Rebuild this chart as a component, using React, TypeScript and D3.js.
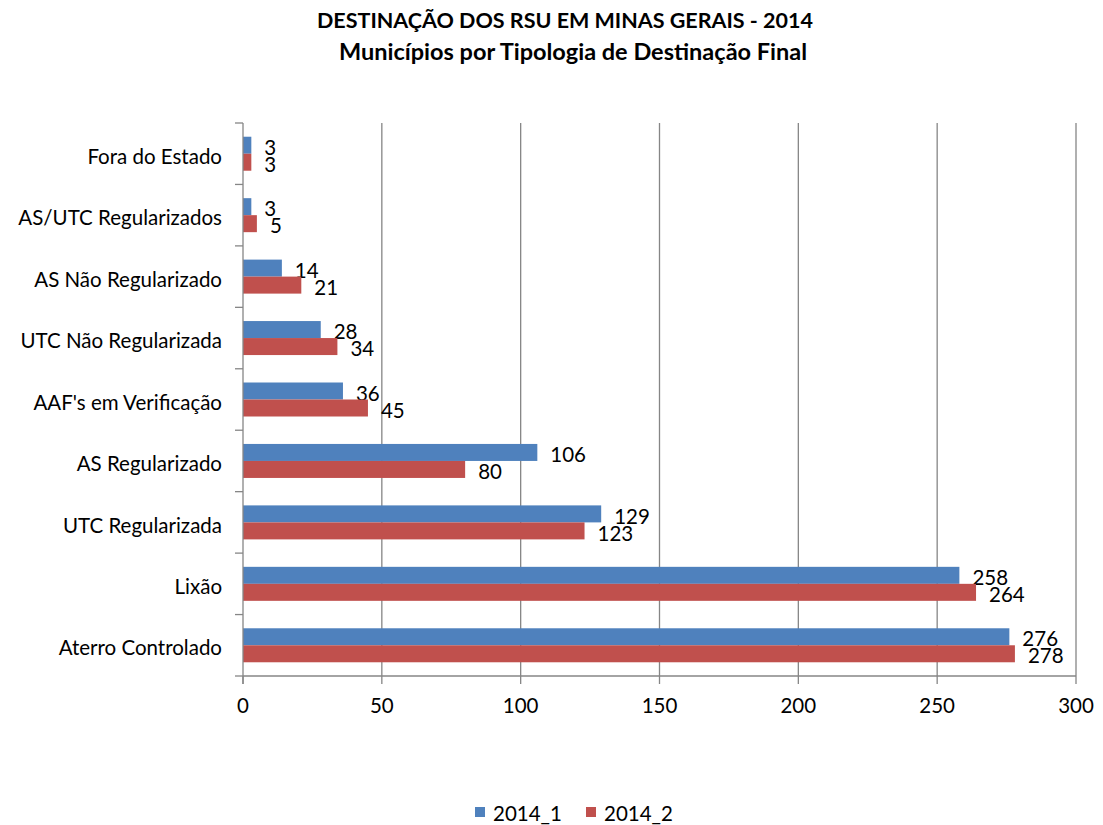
import React, { useEffect, useRef } from "react";
import * as d3 from "d3";

const categories = [
  "Fora do Estado",
  "AS/UTC Regularizados",
  "AS Não Regularizado",
  "UTC Não Regularizada",
  "AAF's em Verificação",
  "AS Regularizado",
  "UTC Regularizada",
  "Lixão",
  "Aterro Controlado",
];
const series1 = [3, 3, 14, 28, 36, 106, 129, 258, 276];
const series2 = [3, 5, 21, 34, 45, 80, 123, 264, 278];
const seriesNames = ["2014_1", "2014_2"];
const xTicks = [0, 50, 100, 150, 200, 250, 300];

const colors = ["#4F81BD", "#C0504D"];
const FONT = "Lato, 'Open Sans', sans-serif";
const FS = 20.5;

const App = () => {
  const ref = useRef<SVGSVGElement>(null);

  useEffect(() => {
    const svg = d3.select(ref.current);
    svg.selectAll("*").remove();

    const left = 243, right = 1076, top = 123, bottom = 676;

    const x = d3.scaleLinear().domain([0, 300]).range([left, right]);
    const y = d3.scaleBand().domain(categories).range([top, bottom]);
    const bh = 17;

    // gridlines
    svg.append("g")
      .selectAll("line")
      .data(xTicks.slice(1))
      .enter()
      .append("line")
      .attr("x1", (d) => x(d))
      .attr("x2", (d) => x(d))
      .attr("y1", top)
      .attr("y2", bottom)
      .attr("stroke", "#868686")
      .attr("stroke-width", 1.3);

    // bars
    const rows = categories.map((c, i) => ({ c, v: [series1[i], series2[i]] }));
    const g = svg.append("g");
    rows.forEach((r) => {
      const cy = (y(r.c) as number) + y.bandwidth() / 2;
      r.v.forEach((v, k) => {
        const by = cy - bh + k * bh;
        g.append("rect")
          .attr("x", x(0))
          .attr("y", by)
          .attr("width", x(v) - x(0))
          .attr("height", bh)
          .attr("fill", colors[k]);
        g.append("text")
          .attr("x", x(v) + 13)
          .attr("y", by + bh / 2 + 2.5)
          .attr("dy", "0.35em")
          .attr("font-family", FONT)
          .attr("font-size", FS)
          .attr("fill", "#000")
          .text(v);
      });
    });

    // left axis
    const yAxis = svg.append("g");
    yAxis.append("line")
      .attr("x1", left).attr("x2", left)
      .attr("y1", top).attr("y2", bottom + 8)
      .attr("stroke", "#868686").attr("stroke-width", 1.3);
    const bounds = d3.range(categories.length + 1).map((i) => top + i * y.bandwidth());
    yAxis.selectAll("line.t")
      .data(bounds)
      .enter()
      .append("line")
      .attr("class", "t")
      .attr("x1", left - 8).attr("x2", left)
      .attr("y1", (d) => d).attr("y2", (d) => d)
      .attr("stroke", "#868686").attr("stroke-width", 1.3);
    yAxis.selectAll("text")
      .data(categories)
      .enter()
      .append("text")
      .attr("x", left - 21)
      .attr("y", (d) => (y(d) as number) + y.bandwidth() / 2 + 3)
      .attr("dy", "0.35em")
      .attr("text-anchor", "end")
      .attr("font-family", FONT)
      .attr("font-size", FS)
      .text((d) => d);

    // bottom axis
    const xAxis = svg.append("g");
    xAxis.append("line")
      .attr("x1", left).attr("x2", right)
      .attr("y1", bottom).attr("y2", bottom)
      .attr("stroke", "#868686").attr("stroke-width", 1.3);
    xAxis.selectAll("line.t")
      .data(xTicks)
      .enter()
      .append("line")
      .attr("class", "t")
      .attr("x1", (d) => x(d)).attr("x2", (d) => x(d))
      .attr("y1", bottom).attr("y2", bottom + 8)
      .attr("stroke", "#868686").attr("stroke-width", 1.3);
    xAxis.selectAll("text")
      .data(xTicks)
      .enter()
      .append("text")
      .attr("x", (d) => x(d))
      .attr("y", 706)
      .attr("dy", "0.35em")
      .attr("text-anchor", "middle")
      .attr("font-family", FONT)
      .attr("font-size", FS)
      .text((d) => d);

    // title
    const title = svg.append("text")
      .attr("text-anchor", "middle")
      .attr("font-family", FONT)
      .attr("font-weight", "bold");
    title.append("tspan").attr("x", 565).attr("y", 28).attr("font-size", 21.5)
      .text("DESTINAÇÃO DOS RSU EM  MINAS GERAIS - 2014");
    title.append("tspan").attr("x", 573).attr("y", 60).attr("font-size", 23.5)
      .text("Municípios por Tipologia de Destinação Final");

    // legend
    const lg = svg.append("g");
    const lx = [475, 586];
    seriesNames.forEach((n, k) => {
      lg.append("rect")
        .attr("x", lx[k]).attr("y", 807)
        .attr("width", 10).attr("height", 10)
        .attr("fill", colors[k]);
      lg.append("text")
        .attr("x", lx[k] + 18).attr("y", 814)
        .attr("dy", "0.35em")
        .attr("font-family", FONT)
        .attr("font-size", FS)
        .text(n);
    });
  }, []);

  return (
    <svg
      ref={ref}
      width={1103}
      height={825}
      style={{ position: "absolute", left: 0, top: 0, background: "#fff" }}
    />
  );
};

export default App;
